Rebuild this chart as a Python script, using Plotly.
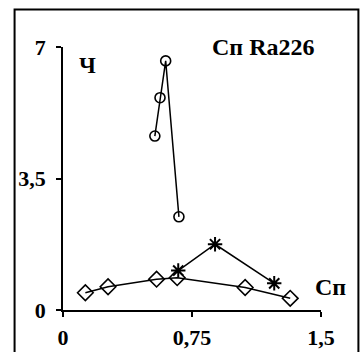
import plotly.graph_objects as go

# Data
circle_x = [0.534, 0.564, 0.597, 0.674]
circle_y = [4.63, 5.65, 6.63, 2.48]

diamond_x = [0.130, 0.262, 0.544, 0.664, 1.059, 1.321]
diamond_y = [0.46, 0.62, 0.82, 0.86, 0.60, 0.31]

star_x = [0.670, 0.884, 1.228]
star_y = [1.05, 1.75, 0.71]

x_ticks = [0, 0.75, 1.5]
x_tick_labels = ["0", "0,75", "1,5"]
y_ticks = [0, 3.5, 7]
y_tick_labels = ["0", "3,5", "7"]

FONT = "Liberation Serif"

fig = go.Figure()
fig.add_trace(go.Scatter(x=circle_x, y=circle_y, mode="lines+markers",
                         line=dict(color="black", width=1.5),
                         marker=dict(symbol="circle-open", size=10, color="black",
                                     line=dict(width=1.6))))
fig.add_trace(go.Scatter(x=diamond_x, y=diamond_y, mode="lines+markers",
                         line=dict(color="black", width=1.5),
                         marker=dict(symbol="diamond-open", size=12, color="black",
                                     line=dict(width=1.6))))
fig.add_trace(go.Scatter(x=star_x, y=star_y, mode="lines+markers",
                         line=dict(color="black", width=1.5),
                         marker=dict(symbol="asterisk-open", size=12, color="black",
                                     line=dict(width=2))))

fig.update_layout(
    width=360, height=352,
    margin=dict(l=63, r=39, t=47, b=42, pad=0),
    paper_bgcolor="white", plot_bgcolor="white",
    showlegend=False,
    font=dict(family=FONT, size=22, color="black", weight="bold"),
    xaxis=dict(range=[0, 1.5], tickvals=x_ticks, ticktext=x_tick_labels,
               showgrid=False, zeroline=False, showline=True, linecolor="black",
               linewidth=1.5, ticks="outside", ticklen=5, tickwidth=1.5,
               tickcolor="black", ticklabelstandoff=2, automargin=False,
               tickfont=dict(family=FONT, size=22, weight="bold")),
    yaxis=dict(range=[0, 7], tickvals=y_ticks, ticktext=y_tick_labels,
               showgrid=False, zeroline=False, showline=True, linecolor="black",
               linewidth=1.5, ticks="outside", ticklen=5, tickwidth=1.5,
               tickcolor="black", ticklabelstandoff=6, automargin=False,
               tickfont=dict(family=FONT, size=22, weight="bold")),
    shapes=[dict(type="rect", xref="paper", yref="paper",
                 x0=-0.1877, x1=1.145, y0=-0.25, y1=1.143,
                 line=dict(color="black", width=2), fillcolor="rgba(0,0,0,0)",
                 layer="below")],
    annotations=[
        dict(text="Сп Ra226", xref="paper", yref="paper", x=0.776, y=1.0,
             xanchor="center", yanchor="middle", showarrow=False,
             font=dict(family=FONT, size=24, weight="bold")),
        dict(text="Ч", xref="paper", yref="paper", x=0.096, y=0.93,
             xanchor="center", yanchor="middle", showarrow=False,
             font=dict(family=FONT, size=23, weight="bold")),
        dict(text="Сп", xref="paper", yref="paper", x=1.036, y=0.087,
             xanchor="center", yanchor="middle", showarrow=False,
             font=dict(family=FONT, size=24, weight="bold")),
    ],
)

fig.write_html("out.html")
